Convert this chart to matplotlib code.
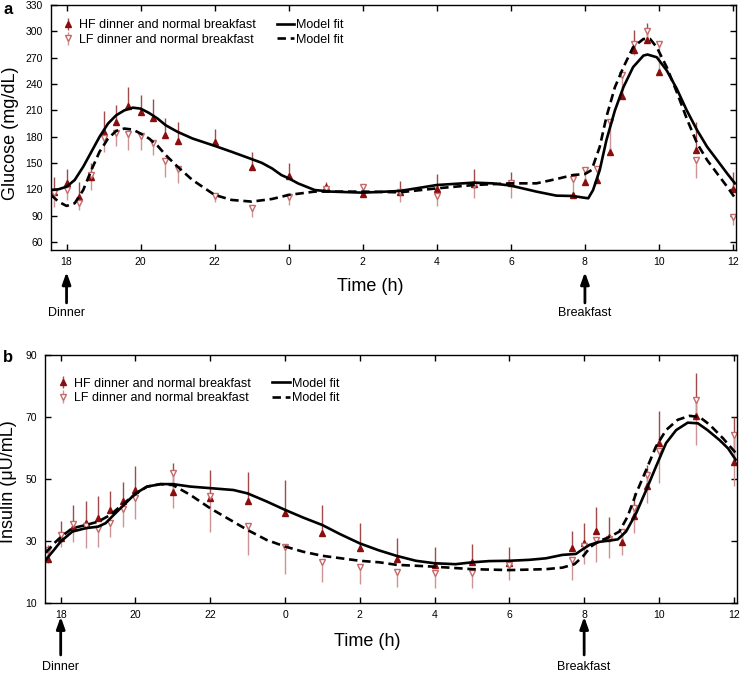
import numpy as np
import matplotlib.pyplot as plt

plt.rcParams['font.family'] = ['Liberation Sans', 'DejaVu Sans']

# ---- panel a: glucose ----
t_glu = [17.65, 18, 18.33, 18.67, 19, 19.33, 19.67, 20, 20.33, 20.67, 21, 22, 23, 24, 25, 26,
         27, 28, 29, 30, 31.67, 32, 32.33, 32.67, 33, 33.33, 33.67, 34, 35, 36]
glu_hf = [117.5, 127.7, 111.8, 133.7, 185, 196.8, 215.5, 208.5, 201.8, 181.7, 175, 174, 146, 135.6, 123, 114.4,
          117.5, 120, 125.8, 127.7, 113.7, 128.8, 130.7, 162.8, 226, 279, 290, 253.5, 164.7, 120]
glu_hf_err = [17, 15, 17, 16, 24, 19, 21, 19, 21, 20, 22, 15, 17, 14, 6, 5,
              12, 18, 17, 12, 3, 4, 4, 5, 6, 23, 20, 5, 32, 20]
glu_lf = [115.6, 119.3, 105, 136, 178, 184, 183, 180.6, 172.3, 152.6, 142.8, 112, 98.6, 111, 121, 123,
          117, 112.5, 125, 127, 132, 142, 142.8, 196.8, 249.8, 285.7, 300.8, 285.7, 154, 89]
glu_lf_err = [16, 11, 9, 17, 15, 14, 18, 16, 13, 18, 16, 6, 9.6, 8.7, 4, 5,
              11, 11, 15, 17, 18, 13, 12, 34, 25, 13, 8, 32, 21, 9]

fit_glu_t_hf = [17.58, 17.78, 18.0, 18.22, 18.45, 18.67, 18.89, 19.12, 19.34, 19.56, 19.79, 20.0, 20.23, 20.46,
                20.68, 21.0, 21.4, 22.0, 22.46, 23.0, 23.27, 23.55, 23.8, 24.0, 24.25, 24.7, 25.14, 26.0, 27, 28,
                29, 29.5, 30, 30.69, 31.23, 31.68, 31.95, 32.09, 32.22, 32.4, 32.58, 32.81, 33.04, 33.3, 33.58,
                33.69, 33.94, 34.21, 34.48, 34.75, 35.03, 35.3, 35.57, 35.84, 36.05]
fit_glu_hf = [119.3, 120.1, 123.1, 130.7, 145.8, 162.8, 179.8, 195, 204.4, 210, 213.1, 212, 207, 200.6,
              193, 185.5, 178, 169.6, 162.8, 154.5, 150.3, 143.9, 136.4, 132.6, 126.9, 119.3, 117.5, 116.3, 118.2, 125,
              127.7, 126.9, 124.3, 117.5, 112.9, 112.5, 110.7, 109.9, 119.3, 142, 176, 210, 236.5, 259.2, 272.4,
              273.6, 270.5, 255.4, 234.6, 210, 187.4, 168.5, 153.4, 138.2, 126.9]
fit_glu_t_lf = [17.58, 17.78, 18.0, 18.22, 18.45, 18.67, 18.89, 19.12, 19.34, 19.56, 19.79, 20.0, 20.23, 20.46,
                20.68, 21.0, 21.4, 22.0, 22.46, 23.0, 23.55, 24.0, 24.7, 26.0, 27, 28, 29, 30, 30.69, 31.23,
                31.68, 32.0, 32.18, 32.4, 32.58, 32.81, 33.04, 33.3, 33.58, 33.76, 33.94, 34.21, 34.48, 34.75,
                35.03, 35.3, 35.57, 35.84, 36.05]
fit_glu_lf = [113.7, 106.1, 101.2, 104.2, 119.3, 142, 162.8, 177.9, 186.6, 189.3, 188.1, 183.6, 177.9, 169.6,
              159, 145.8, 130.7, 113.7, 108, 106.1, 109.1, 113.7, 117.5, 117.5, 116.7, 121.2, 125, 126.9, 126.9, 131.8,
              136.4, 137.5, 142, 168.5, 202.5, 236.5, 259.2, 281.9, 291.3, 291.3, 281.9, 259.2, 230.9, 200.6,
              172.3, 153.4, 138.2, 123.1, 110.5]

# ---- panel b: insulin ----
t_ins = [17.65, 18, 18.33, 18.67, 19, 19.33, 19.67, 20, 21, 22, 23, 24, 25, 26, 27, 28, 29, 30,
         31.67, 32, 32.33, 32.67, 33, 33.33, 33.67, 34, 35, 36]
ins_hf = [24.2, 30.9, 34.5, 35.8, 37.4, 40.1, 43, 46.5, 45.7, 43.8, 43.1, 39.2, 32.6, 27.9, 24.2, 22.4, 23.2, 22.9,
          27.7, 29.5, 33.4, 31.3, 29.9, 38.2, 47.8, 61.8, 70.4, 55.6]
ins_hf_err = [4.6, 5.7, 7.2, 7.3, 7.3, 6.2, 6.2, 7.7, 9.5, 9.2, 9.3, 10.5, 9.1, 7.9, 7, 5.9, 5.9, 5.4,
              5.7, 6.4, 7.7, 6.4, 3, 7.2, 6.8, 10.3, 13.9, 14.5]
ins_lf = [27.2, 32, 35.5, 34.8, 33.8, 36, 40.3, 43.8, 51.9, 44.6, 34.9, 28, 23.2, 21.8, 20.2, 19.7, 19.7, 22.4,
          24, 28.5, 30.4, 30.8, 33.1, 40.6, 51.3, 59.2, 75.5, 64.2]
ins_lf_err = [4.3, 3.7, 5.6, 7, 5.5, 4.7, 5.6, 6.8, 11.3, 11.5, 9.3, 8.6, 6.2, 5.6, 5, 4.9, 4.9, 4.9,
              6.5, 5.8, 7, 6.3, 7.5, 8, 8.9, 10.3, 14.5, 16.4]

fit_ins_t_hf = [17.6, 17.82, 18, 18.31, 18.67, 19, 19.2, 19.42, 19.69, 20, 20.31, 20.67, 21, 21.47, 22, 22.62,
                23, 23.51, 24, 24.49, 25, 25.47, 26, 26.5, 26.98, 27.5, 28, 28.56, 29, 29.46, 30, 30.53, 30.98,
                31.42, 31.78, 31.96, 32.14, 32.41, 32.67, 32.9, 33.12, 33.39, 33.66, 33.92, 34.19, 34.46, 34.77,
                35.04, 35.3, 35.62, 35.85, 36.05]
fit_ins_hf = [24, 27.2, 29.9, 33.1, 34.2, 34.7, 35.8, 38.5, 41.7, 45.4, 47.6, 48.4, 48.4, 47.6, 47.1, 46.5,
              45.4, 42.8, 40.1, 37.6, 35.2, 32.3, 29.3, 27.1, 25.3, 23.7, 22.9, 22.6, 23.2, 23.6, 23.7, 24, 24.5,
              25.6, 25.9, 27.4, 28.8, 29.8, 30.2, 30.6, 33.1, 39, 46.5, 54, 61.6, 65.8, 68.2,
              68, 65.8, 62.6, 59.9, 56.3]
fit_ins_t_lf = [17.6, 17.82, 18, 18.31, 18.67, 19, 19.33, 19.69, 20, 20.31, 20.67, 21, 21.47, 22, 22.53, 23,
                23.51, 24, 24.49, 25, 26, 26.53, 26.98, 28, 29, 30, 30.98, 31.42, 31.74, 31.96, 32.18, 32.41,
                32.67, 32.94, 33.16, 33.39, 33.66, 33.92, 34.19, 34.5, 34.82, 35.09, 35.36, 35.71, 36.05]
fit_ins_lf = [26.3, 29.3, 31.3, 34.2, 35.2, 36.3, 38.5, 42.2, 45.2, 47.6, 48.4, 48.1, 44.9, 40.6, 36.9, 33.6,
              30.4, 28.3, 26.6, 25.3, 23.7, 23.2, 22.4, 21.8, 21, 20.7, 21, 21.5, 22.6, 25, 28.3, 30.1,
              31.3, 33.1, 37.9, 45.4, 53, 60.5, 65.8, 69.1, 70.4, 70, 67.5, 63.2, 58.5]

xticks = [18, 20, 22, 24, 26, 28, 30, 32, 34, 36]
xticklabels = ['18', '20', '22', '0', '2', '4', '6', '8', '10', '12']

hf_col = '#8b0d0d'
hf_bar = '#a04a4a'
lf_col = '#c46a6a'
lf_bar = '#cc9494'

W, H = 741, 673
fig = plt.figure(figsize=(W / 100, H / 100), dpi=100)


def make_panel(rect, t, hf, hf_err, lf, lf_err, fts_hf, fhf, fts_lf, flf, ylim, yticks, leg_anchor,
               arrow_y, time_y):
    ax = fig.add_axes(rect)
    z = np.zeros(len(t))
    eb1 = ax.errorbar(t, hf, yerr=[z, hf_err], fmt='^', ms=5, mfc=hf_col, mec=hf_col, ecolor=hf_bar,
                      elinewidth=1, capsize=0, zorder=2)
    eb2 = ax.errorbar(t, lf, yerr=[lf_err, z], fmt='v', ms=5, mfc='white', mec=lf_col, mew=1, ecolor=lf_bar,
                      elinewidth=1, capsize=0, zorder=2)
    l1, = ax.plot(fts_hf, fhf, color='black', lw=1.9, zorder=3, solid_joinstyle='round')
    l2, = ax.plot(fts_lf, flf, color='black', lw=1.9, ls=(0, (3.2, 1.8)), zorder=3)
    ax.set_xlim(17.58, 36.08)
    ax.set_ylim(*ylim)
    ax.set_xticks(xticks)
    ax.set_xticklabels(xticklabels)
    ax.set_yticks(yticks)
    ax.tick_params(direction='in', length=4, width=1, labelsize=7.5, top=True, right=True, pad=5)
    ax.tick_params(axis='y', labelright=False, pad=6)
    for s in ax.spines.values():
        s.set_linewidth(1)
    ax.legend([eb1, eb2, l1, l2], ['HF dinner and normal breakfast', 'LF dinner and normal breakfast',
                                   'Model fit', 'Model fit'],
              ncol=2, loc='upper left', bbox_to_anchor=leg_anchor, frameon=False, fontsize=9,
              handlelength=1.4, handletextpad=0.15, columnspacing=1.7, labelspacing=0.2,
              borderpad=0, borderaxespad=0)
    tip, tail, txt = arrow_y
    for x, label in [(18, 'Dinner'), (32, 'Breakfast')]:
        ax.annotate('', xy=(x, tip), xytext=(x, tail), xycoords=('data', 'axes fraction'),
                    arrowprops=dict(arrowstyle='-|>,head_length=0.7,head_width=0.25', lw=2, color='black',
                                    shrinkA=0, shrinkB=0), annotation_clip=False)
        ax.annotate(label, xy=(x, txt), xycoords=('data', 'axes fraction'), ha='center', va='center',
                    fontsize=9, annotation_clip=False)
    ax.annotate('Time (h)', xy=(26.2, time_y), xycoords=('data', 'axes fraction'), ha='center', va='center',
                fontsize=13, annotation_clip=False)
    return ax


make_panel([51 / W, 1 - 250 / H, 685 / W, 245 / H], t_glu, glu_hf, glu_hf_err, glu_lf, glu_lf_err,
           fit_glu_t_hf, fit_glu_hf, fit_glu_t_lf, fit_glu_lf, (51, 330), range(60, 331, 30),
           (0.012, 0.942), (-0.09, -0.216, -0.257), -0.151)
make_panel([45 / W, 1 - 603.3 / H, 691.7 / W, 248.3 / H], t_ins, ins_hf, ins_hf_err, ins_lf, ins_lf_err,
           fit_ins_t_hf, fit_ins_hf, fit_ins_t_lf, fit_ins_lf, (10, 90), range(10, 91, 20),
           (0.014, 0.909), (-0.054, -0.208, -0.257), -0.155)

fig.text(11 / W, 1 - 133 / H, 'Glucose (mg/dL)', rotation=90, ha='center', va='center', fontsize=13)
fig.text(9 / W, 1 - 482 / H, 'Insulin (\u03bcU/mL)', rotation=90, ha='center', va='center', fontsize=13)
fig.text(3 / W, 1 - 9 / H, 'a', fontsize=12, fontweight='bold', va='center', ha='left')
fig.text(3 / W, 1 - 358 / H, 'b', fontsize=12, fontweight='bold', va='center', ha='left')

fig.savefig('out.png', dpi=100)
